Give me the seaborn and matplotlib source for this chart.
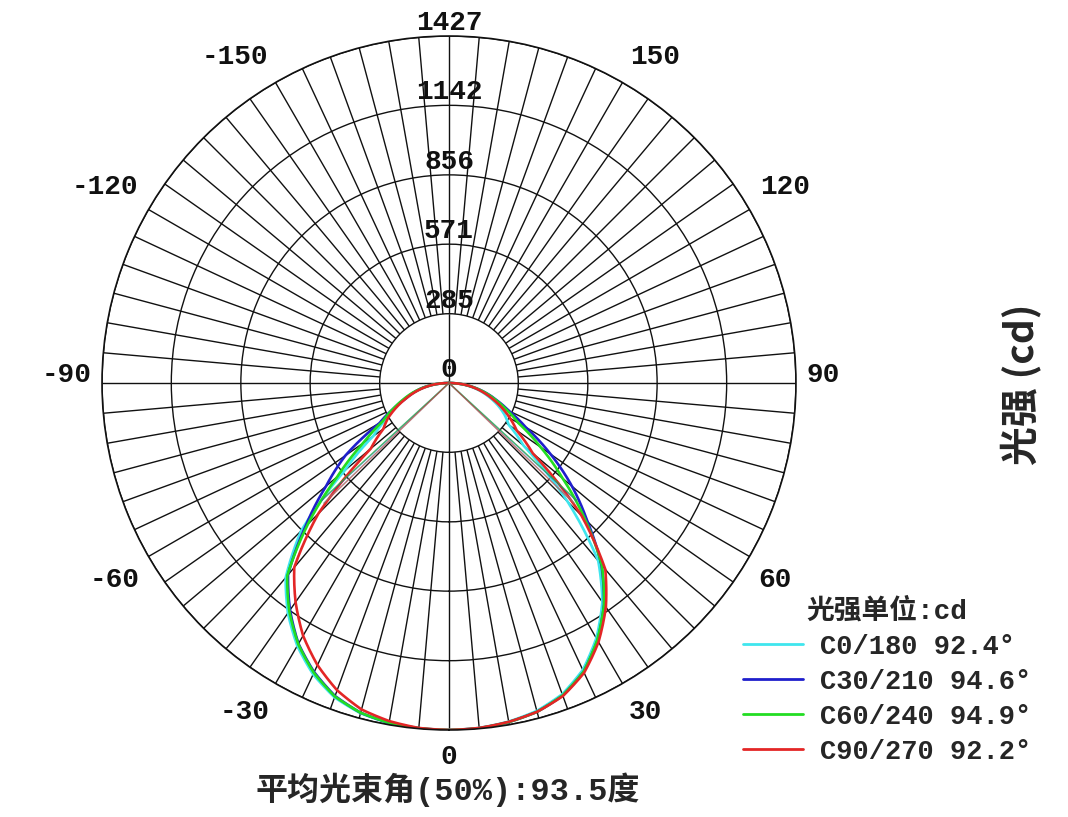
import numpy as np
import pandas as pd
import matplotlib
matplotlib.use('Agg')
import matplotlib.pyplot as plt
import matplotlib.transforms as mtransforms
import seaborn as sns

# ── Data ───────────────────────────────────────
angles = list(range(-90, 95, 5))     # gamma angle, 0 = straight down

c0_180 = [0, 52, 102, 150, 198, 248, 300, 380, 560, 860, 1045, 1155, 1248,
          1322, 1376, 1406, 1420, 1426, 1427, 1424, 1414, 1396, 1362, 1302,
          1212, 1100, 955, 690, 400, 300, 265, 225, 182, 140, 96, 50, 0]
c30_210 = [0, 55, 108, 150, 190, 255, 330, 520, 660, 835, 1030, 1140, 1238,
           1312, 1370, 1404, 1419, 1425, 1427, 1425, 1416, 1400, 1368, 1310,
           1222, 1112, 975, 805, 660, 510, 365, 272, 210, 158, 105, 54, 0]
c60_240 = [0, 55, 106, 155, 202, 255, 315, 430, 600, 820, 1035, 1145, 1240,
           1315, 1372, 1404, 1419, 1425, 1427, 1425, 1416, 1400, 1367, 1310,
           1220, 1112, 978, 790, 610, 460, 330, 262, 205, 155, 104, 53, 0]
c90_270 = [0, 55, 100, 145, 190, 240, 290, 330, 420, 760, 990, 1100, 1200,
           1280, 1345, 1390, 1412, 1424, 1427, 1424, 1415, 1400, 1370, 1315,
           1230, 1125, 1000, 770, 450, 340, 290, 240, 190, 145, 100, 55, 0]

planes = ['C0/180', 'C30/210', 'C60/240', 'C90/270']
beam_angles = [92.4, 94.6, 94.9, 92.2]
ring_values = [285, 571, 856, 1142, 1427]
angle_labels = [0, 30, 60, 90, 120, 150, -150, -120, -90, -60, -30]
r_max = ring_values[-1]

COLORS = ['#3FE6EE', '#1F1FCC', '#22DD22', '#E32626']
GRID = '#111111'
FS = 20

# where the angle labels sit: (angle nudge, radius factor) for the + side
LABEL_POS = {0: (0.0, 1.078), 30: (30.8, 1.104), 60: (58.9, 1.098),
             90: (91.2, 1.078), 120: (120.3, 1.121), 150: (147.7, 1.111)}

series_names = [f'{p} {b}°' for p, b in zip(planes, beam_angles)]
curves = [c0_180, c30_210, c60_240, c90_270]

df = pd.concat([
    pd.DataFrame({'theta': np.radians(angles), 'cd': vals, 'series': name})
    for name, vals in zip(series_names, curves)
], ignore_index=True)

# ── Style ──────────────────────────────────────
sns.set_style('white')
plt.rcParams['font.family'] = ['Liberation Mono', 'Noto Sans CJK SC', 'DejaVu Sans']
CJK = ['Noto Sans CJK SC', 'DejaVu Sans']
MIXED = ['Liberation Mono', 'Noto Sans CJK SC']

fig = plt.figure(figsize=(10.68, 8.17), dpi=100)
ax = fig.add_axes([0.0955, 0.1065, 0.6498, 0.8494], projection='polar')
ax.set_theta_zero_location('S')
ax.set_theta_direction(1)
ax.set_ylim(0, r_max)

# rings
ax.set_xticks([])
ax.set_yticks(ring_values)
ax.set_yticklabels([])
ax.yaxis.grid(True, color=GRID, linewidth=1.0)
ax.spines['polar'].set_color(GRID)
ax.spines['polar'].set_linewidth(1.2)

# spokes every 5 degrees, from the first ring outwards
spokes = np.radians(np.arange(0, 360, 5))
ax.vlines(spokes, ring_values[0], r_max, colors=GRID, linewidth=1.0)
ax.vlines(np.radians([0, 90, 180, 270]), 0, ring_values[0],
          colors=GRID, linewidth=1.0)

# ── Curves ─────────────────────────────────────
sns.lineplot(data=df, x='theta', y='cd', hue='series', hue_order=series_names,
             palette=COLORS, sort=False, estimator=None, linewidth=1.9, ax=ax)
# let the polar transform draw the segments as arcs instead of chords
for line in ax.get_lines():
    line.get_path()._interpolation_steps = 12

# half-intensity (beam angle) markers
for beam, col in zip(beam_angles, COLORS):
    for side in (-1, 1):
        th = np.radians(side * beam / 2)
        ax.plot([th, th], [0, r_max / 2], color=col, linewidth=1.0, alpha=0.6)

ax.set_xlabel('')
ax.set_ylabel('')

# ── Labels ─────────────────────────────────────
neg_shift = mtransforms.offset_copy(ax.transData, fig=fig, x=-0.3 * FS, y=0,
                                    units='points')
for a in angle_labels:
    nudge, f = LABEL_POS[abs(a)]
    th = np.radians(nudge if a >= 0 else -nudge)
    ax.text(th, r_max * f, str(a), ha='center', va='center',
            fontsize=FS, fontweight='bold', color='#111111',
            transform=ax.transData if a >= 0 else neg_shift)
for v in [0] + ring_values:
    ax.text(np.pi, v, str(v), ha='center', va='bottom',
            fontsize=FS, fontweight='bold', color='#111111')

# legend
old = ax.get_legend()
handles = old.legend_handles
labels = [t.get_text() for t in old.get_texts()]
old.remove()
leg = ax.legend(handles, labels, loc='upper left',
                bbox_to_anchor=(0.6957, 0.2675), bbox_transform=fig.transFigure,
                frameon=False, borderaxespad=0, borderpad=0,
                handlelength=2.2, handletextpad=0.65, labelspacing=0.33,
                prop={'family': 'Liberation Mono', 'weight': 'bold', 'size': 19.5},
                title='光强单位:cd',
                title_fontproperties={'family': MIXED, 'weight': 'bold', 'size': 20})
for line in leg.get_lines():
    line.set_linewidth(2)

fig.text(0.957, 0.529, '光强 (cd)', rotation=90, ha='center', va='center',
         fontsize=28, fontweight='bold', family=CJK)
fig.text(0.4197, 0.033, f'平均光束角(50%):{np.mean(beam_angles):.1f}度',
         ha='center', va='center', fontsize=23, fontweight='bold',
         family=MIXED)

plt.savefig('out.png', dpi=100)
plt.close()
